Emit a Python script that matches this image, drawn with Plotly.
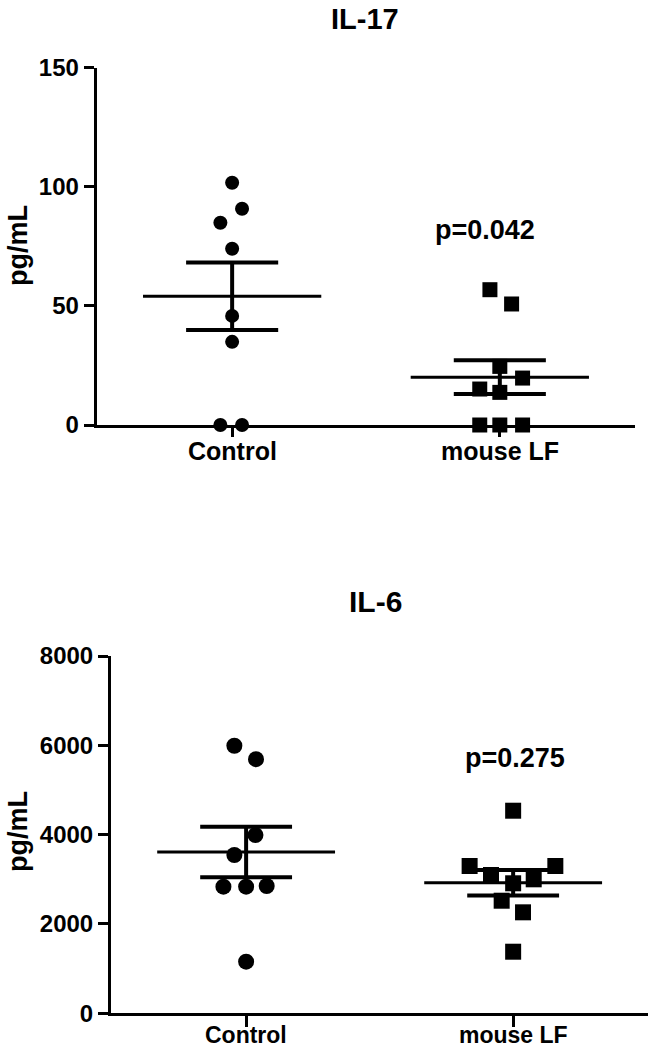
import plotly.graph_objects as go

# ---------------- data ----------------
categories = ["Control", "mouse LF"]

il17_control = [101.7, 90.8, 84.9, 74.0, 45.8, 34.9, 0.0, 0.0]
il17_mouself = [56.8, 50.8, 24.6, 19.7, 15.1, 13.7, 0.0, 0.0, 0.0]
il6_control = [5990, 5690, 3990, 3545, 2835, 2835, 2850, 1155]
il6_mouself = [4536, 3298, 3298, 3097, 2911, 3000, 2521, 2261, 1379]

il17_ticks = [0, 50, 100, 150]
il6_ticks = [0, 2000, 4000, 6000, 8000]

p_il17 = "p=0.042"
p_il6 = "p=0.275"

# horizontal scatter offsets (category units) used to separate overlapping points
jit_il17_control = [0, 0.037, -0.044, 0, 0, 0, -0.044, 0.037]
jit_il17_mouself = [-0.037, 0.044, 0, 0.085, -0.075, 0, -0.075, 0, 0.085]
jit_il6_control = [-0.044, 0.037, 0.035, -0.044, -0.085, 0, 0.077, 0]
jit_il6_mouself = [0, -0.163, 0.158, -0.083, 0, 0.077, -0.043, 0.037, 0]

FONT = "Liberation Sans, Arial, sans-serif"
MEAN_HW = 0.333
CAP_HW = 0.172


def mean_sem(v):
    n = len(v)
    m = sum(v) / n
    sd = (sum((x - m) ** 2 for x in v) / (n - 1)) ** 0.5
    return m, sd / n ** 0.5


fig = go.Figure()


def add_group(vals, jit, ci, symbol, size, xa, ya):
    xs = [ci + j for j in jit]
    fig.add_trace(go.Scatter(
        x=xs, y=vals, mode="markers", xaxis=xa, yaxis=ya,
        marker=dict(symbol=symbol, size=size, color="black", line=dict(width=0)),
        cliponaxis=False, showlegend=False, hoverinfo="skip"))
    m, s = mean_sem(vals)
    # mean line
    fig.add_trace(go.Scatter(
        x=[ci - MEAN_HW, ci + MEAN_HW], y=[m, m], mode="lines",
        xaxis=xa, yaxis=ya, line=dict(color="black", width=3),
        showlegend=False, hoverinfo="skip", cliponaxis=False))
    # SEM bar + caps
    fig.add_trace(go.Scatter(
        x=[ci, ci, None, ci - CAP_HW, ci + CAP_HW, None, ci - CAP_HW, ci + CAP_HW],
        y=[m - s, m + s, None, m + s, m + s, None, m - s, m - s],
        mode="lines", xaxis=xa, yaxis=ya, line=dict(color="black", width=4),
        showlegend=False, hoverinfo="skip", cliponaxis=False))


add_group(il17_control, jit_il17_control, 0, "circle", 14, "x", "y")
add_group(il17_mouself, jit_il17_mouself, 1, "square", 15, "x", "y")
add_group(il6_control, jit_il6_control, 0, "circle", 16, "x2", "y2")
add_group(il6_mouself, jit_il6_mouself, 1, "square", 16, "x2", "y2")

W, H = 649, 1050


def px_x(p):
    return p / W


def px_y(p):
    return 1 - p / H


common_x = dict(
    range=[-0.506, 1.505], tickvals=[0, 1], showticklabels=False,
    showline=True, linecolor="black", linewidth=3, ticks="outside",
    tickcolor="black", tickwidth=3, showgrid=False, zeroline=False,
    automargin=False,
)
common_y = dict(
    showline=True, linecolor="black", linewidth=3, ticks="outside",
    tickcolor="black", tickwidth=3, ticklen=10, showgrid=False, zeroline=False,
    automargin=False,
    tickfont=dict(family=FONT, size=24, color="black", weight="bold"),
)

fig.update_layout(
    width=W, height=H,
    margin=dict(l=0, r=0, t=0, b=0, pad=0),
    paper_bgcolor="white", plot_bgcolor="white",
    xaxis=dict(domain=[px_x(96.7), px_x(635)], anchor="y", ticklen=9, **common_x),
    yaxis=dict(domain=[px_y(425), px_y(67.7)], anchor="x", range=[0, 150],
               tickvals=il17_ticks, **common_y),
    xaxis2=dict(domain=[px_x(111), px_x(648)], anchor="y2", ticklen=11, **common_x),
    yaxis2=dict(domain=[px_y(1013.3), px_y(656)], anchor="x2", range=[0, 8000],
                tickvals=il6_ticks, **common_y),
)

ann_font = dict(family=FONT, color="black")
annotations = [
    dict(text="<b>IL-17</b>", x=px_x(365), y=px_y(19), font=dict(size=29, **ann_font)),
    dict(text="<b>IL-6</b>", x=px_x(375), y=px_y(601), font=dict(size=30, **ann_font)),
    dict(text="<b>pg/mL</b>", x=px_x(18), y=px_y(246), textangle=-90, font=dict(size=27, **ann_font)),
    dict(text="<b>pg/mL</b>", x=px_x(18), y=px_y(832), textangle=-90, font=dict(size=27, **ann_font)),
    dict(text="<b>" + p_il17 + "</b>", x=px_x(485), y=px_y(230), font=dict(size=27, **ann_font)),
    dict(text="<b>" + p_il6 + "</b>", x=px_x(515), y=px_y(758), font=dict(size=27, **ann_font)),
]
for a in annotations:
    a.update(xref="paper", yref="paper", xanchor="center", yanchor="middle", showarrow=False)

# category labels under each x axis
for xr, yc, fs in (("x", 451, 25), ("x2", 1035, 23)):
    for i, c in enumerate(categories):
        annotations.append(dict(
            text="<b>" + c + "</b>", x=i, xref=xr, y=px_y(yc), yref="paper",
            xanchor="center", yanchor="middle", showarrow=False,
            font=dict(size=fs, **ann_font)))

fig.update_layout(annotations=annotations)

fig.write_html("out.html", config={"displayModeBar": False},
               post_script="document.body.style.margin='0';")
